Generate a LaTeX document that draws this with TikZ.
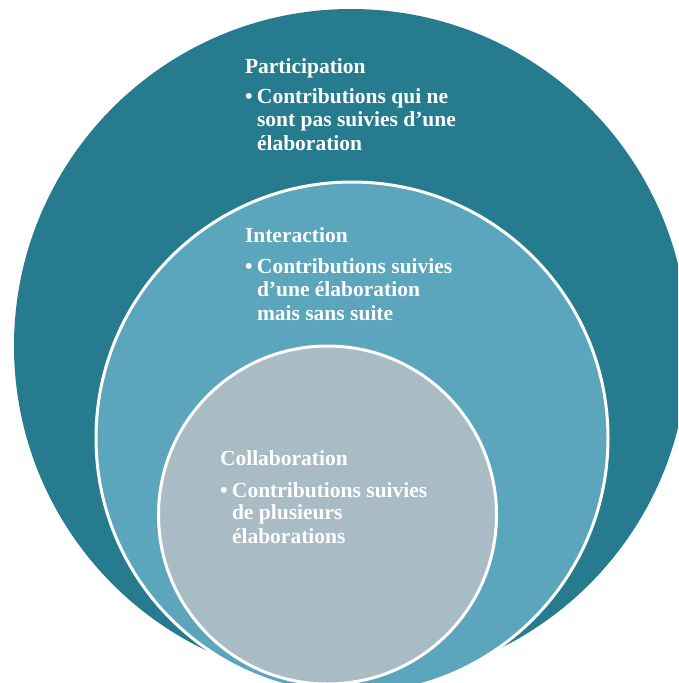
\documentclass[tikz,border=0pt]{standalone}
\usepackage{fontspec}
\setmainfont{Liberation Serif}
\definecolor{outerc}{RGB}{38,124,142}
\definecolor{midc}{RGB}{91,166,188}
\definecolor{innc}{RGB}{169,188,197}
\begin{document}
\begin{tikzpicture}[x=1pt,y=-1pt,
  disc/.style={circle,inner sep=0pt,outer sep=0pt},
  ring/.style={disc,draw=white,line width=3pt},
  txt/.style={anchor=base west,inner sep=0pt,outer sep=0pt,text=white,
    font=\bfseries\fontsize{21.5}{22}\selectfont}]
\useasboundingbox (0,0) rectangle (678,683);
\clip (0,0) rectangle (678,683);
\fill[white] (0,0) rectangle (678,683);
\node[disc,fill=outerc,minimum size=674pt] (outer) at (351,346) {};
\node[ring,fill=midc,minimum size=512pt] (middle) at (352,438) {};
\node[ring,fill=innc,minimum size=338pt] (inner) at (327.5,515) {};
% Participation
\node[txt] (p0) at (245,73) {Participation};
\node[txt] (p1) at (245,103) {\makebox[12pt][l]{•}Contributions qui ne};
\node[txt] (p2) at (257,126) {sont pas suivies d’une};
\node[txt] (p3) at (257,150) {élaboration};
% Interaction
\node[txt] (i0) at (245,242) {Interaction};
\node[txt] (i1) at (245,273) {\makebox[12pt][l]{•}Contributions suivies};
\node[txt] (i2) at (257,296) {d’une élaboration};
\node[txt] (i3) at (257,320) {mais sans suite};
% Collaboration
\node[txt] (c0) at (220,465) {Collaboration};
\node[txt] (c1) at (220,497) {\makebox[12pt][l]{•}Contributions suivies};
\node[txt] (c2) at (232,519) {de plusieurs};
\node[txt] (c3) at (232,543) {élaborations};
\end{tikzpicture}
\end{document}
